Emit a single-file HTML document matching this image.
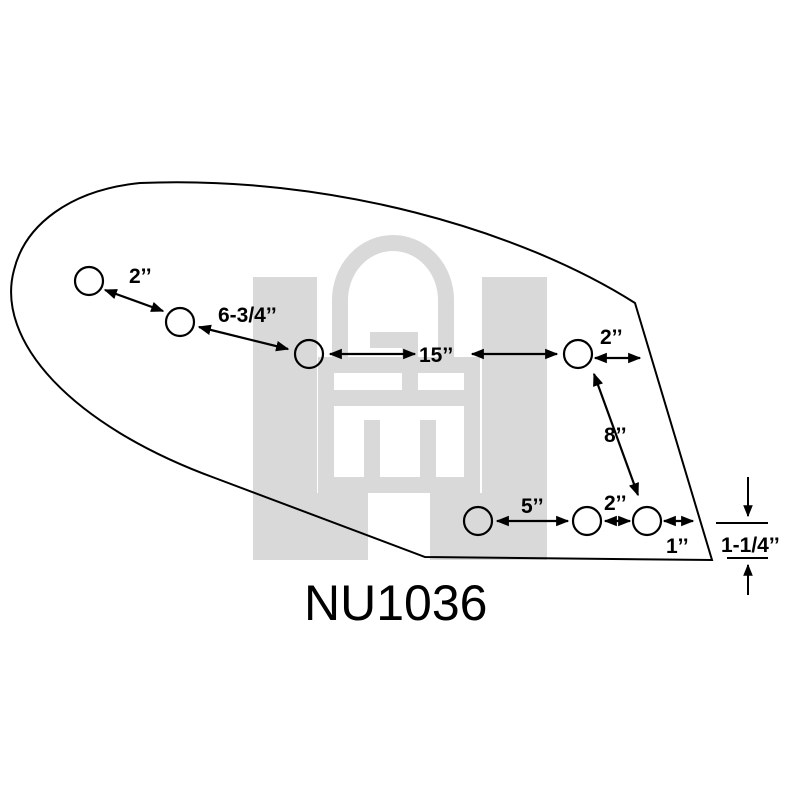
<!DOCTYPE html><html><head><style>body{margin:0;background:#fff}</style></head><body>
<svg width="800" height="800" viewBox="0 0 800 800" xmlns="http://www.w3.org/2000/svg" font-family="Liberation Sans, sans-serif">
<defs><marker id="a" viewBox="0 0 10 10" refX="9" refY="5" markerWidth="6" markerHeight="6" orient="auto-start-reverse"><path d="M0,1 L10,5 L0,9 z" fill="#000"/></marker></defs>
<g fill="#d9d9d9">
<rect x="253" y="277" width="64" height="283"/><rect x="253" y="493" width="115" height="67"/>
<rect x="482" y="277" width="65" height="283"/><rect x="430" y="493" width="117" height="67"/>
</g>
<g fill="none" stroke="#d9d9d9" stroke-width="16">
<rect x="326" y="365" width="146" height="120"/>
<path d="M340,370 V300 A53,57 0 0 1 446,300 V370"/>
<path d="M325,398 H470"/><path d="M370,340 H410 V395"/>
<path d="M372,420 V485 M428,420 V485"/>
</g>
<path d="M635,303 L712,560 L425,557 L215,478 C70,425 -5,340 14,270 C25,225 70,190 140,183 C330,175 520,230 635,303 Z" fill="none" stroke="#000" stroke-width="2"/>
<g fill="none" stroke="#000" stroke-width="2.2">
<circle cx="89" cy="281" r="14"/><circle cx="180" cy="322" r="14"/><circle cx="309" cy="354" r="14"/>
<circle cx="578" cy="354" r="14"/><circle cx="647" cy="521" r="14"/><circle cx="587" cy="521" r="14"/><circle cx="478" cy="521" r="14"/>
</g>
<g stroke="#000" stroke-width="2.2" marker-start="url(#a)" marker-end="url(#a)">
<line x1="105" y1="290" x2="163" y2="311"/>
<line x1="199" y1="327" x2="288" y2="349"/>
<line x1="330" y1="354" x2="415" y2="354" marker-end=""/>
<line x1="472" y1="354" x2="557" y2="354" marker-start=""/>
<line x1="595" y1="358" x2="640" y2="358"/>
<line x1="594" y1="374" x2="638" y2="495"/>
<line x1="497" y1="521" x2="568" y2="521"/>
<line x1="605" y1="521" x2="630" y2="521"/>
<line x1="664" y1="521" x2="693" y2="521"/>
</g>
<g stroke="#000" stroke-width="2"><line x1="716" y1="523" x2="768" y2="523"/><line x1="727" y1="558" x2="768" y2="558"/>
<line x1="748" y1="477" x2="748" y2="516" marker-end="url(#a)"/><line x1="748" y1="595" x2="748" y2="565" marker-end="url(#a)"/></g>
<g font-weight="bold" font-size="21">
<text x="129" y="283">2’’</text><text x="218" y="322">6-3/4’’</text><text x="419" y="362">15’’</text>
<text x="600" y="344">2’’</text><text x="604" y="442">8’’</text><text x="521" y="513">5’’</text>
<text x="604" y="510">2’’</text><text x="666" y="553">1’’</text><text x="721" y="552">1-1/4’’</text>
</g>
<text x="304" y="620" font-size="50">NU1036</text>
</svg></body></html>
